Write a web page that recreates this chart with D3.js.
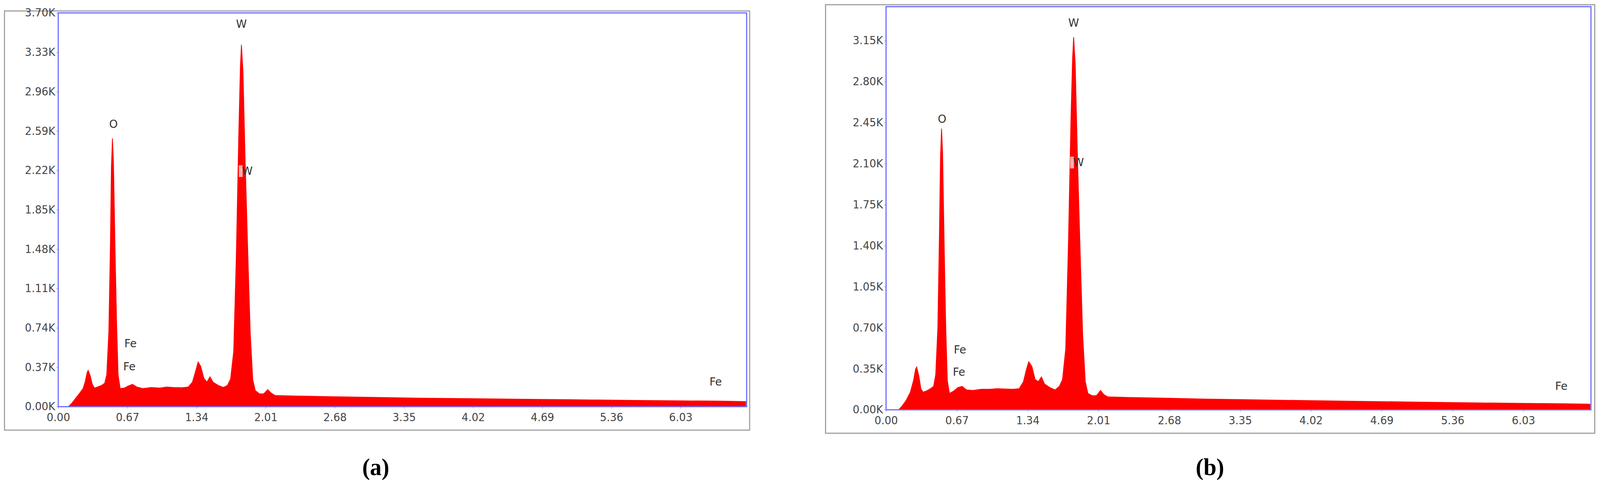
<!DOCTYPE html>
<html><head><meta charset="utf-8">
<script src="https://cdn.jsdelivr.net/npm/d3@7/dist/d3.min.js"></script>
<style>html,body{margin:0;padding:0;background:#fff;overflow:hidden}svg{display:block;width:100vw;height:100vh}</style>
</head><body>
<svg id="chart" viewBox="0 0 4258 1248" preserveAspectRatio="none"></svg>
<script>
// x tick values (keV) shared by both spectra
const xTicks = [0.00, 0.67, 1.34, 2.01, 2.68, 3.35, 4.02, 4.69, 5.36, 6.03];
const yTicksA = [0, 370, 740, 1110, 1480, 1850, 2220, 2590, 2960, 3330, 3700];
const yTicksB = [0, 350, 700, 1050, 1400, 1750, 2100, 2450, 2800, 3150];

// spectrum (a): [energy keV, counts]
const spectrumA = [
  [0.10,0],[0.13,30],[0.17,80],[0.21,130],[0.24,170],[0.26,230],[0.28,320],[0.29,340],[0.31,290],[0.33,210],
  [0.35,175],[0.38,185],[0.42,200],[0.45,220],[0.47,300],[0.49,700],[0.505,1500],[0.515,2250],[0.525,2520],
  [0.535,2300],[0.55,1500],[0.565,800],[0.58,300],[0.60,170],[0.64,175],[0.68,195],[0.72,210],[0.76,185],
  [0.82,170],[0.9,180],[0.98,175],[1.05,185],[1.12,180],[1.2,178],[1.26,185],[1.30,230],[1.33,330],
  [1.355,420],[1.38,380],[1.41,270],[1.44,230],[1.47,280],[1.50,230],[1.55,200],[1.60,180],[1.64,200],
  [1.67,260],[1.70,520],[1.725,1400],[1.75,2600],[1.765,3200],[1.775,3400],[1.79,3150],[1.81,2350],
  [1.835,1500],[1.86,700],[1.885,250],[1.91,150],[1.95,120],[1.99,120],[2.03,160],[2.06,130],[2.1,105],
  [2.3,100],[2.6,95],[3.0,88],[3.5,80],[4.0,75],[4.5,70],[5.0,65],[5.5,60],[6.0,55],[6.4,52],[6.66,48]
];
// spectrum (b)
const spectrumB = [
  [0.12,0],[0.15,30],[0.19,80],[0.23,150],[0.26,250],[0.28,350],[0.29,365],[0.31,290],[0.33,180],
  [0.35,150],[0.38,160],[0.42,180],[0.45,200],[0.47,300],[0.49,700],[0.505,1500],[0.515,2150],[0.525,2400],
  [0.535,2200],[0.55,1400],[0.565,700],[0.58,250],[0.60,140],[0.64,160],[0.68,190],[0.72,200],[0.76,170],
  [0.82,165],[0.9,175],[0.98,175],[1.05,180],[1.12,178],[1.2,175],[1.26,180],[1.30,240],[1.33,350],
  [1.35,410],[1.38,370],[1.41,260],[1.44,240],[1.47,280],[1.50,220],[1.55,190],[1.60,170],[1.64,200],
  [1.67,260],[1.70,520],[1.725,1400],[1.75,2500],[1.765,3000],[1.775,3180],[1.79,2950],[1.81,2200],
  [1.835,1400],[1.86,650],[1.885,240],[1.91,140],[1.95,120],[1.99,120],[2.03,165],[2.06,130],[2.1,110],
  [2.3,105],[2.6,100],[3.0,92],[3.5,85],[4.0,78],[4.5,72],[5.0,66],[5.5,60],[6.0,55],[6.4,52],[6.66,48]
];
// peak labels: [text, energy, counts, highlighted]
const labelsA = [["O",0.535,2620,false],["W",1.775,3560,false],["W",1.83,2180,true],
  ["Fe",0.70,560,false],["Fe",0.69,340,false],["Fe",6.37,200,false]];
const labelsB = [["O",0.53,2450,false],["W",1.775,3270,false],["W",1.82,2080,true],
  ["Fe",0.70,480,false],["Fe",0.69,290,false],["Fe",6.39,170,false]];

const svg = d3.select("#chart");
const font = "'DejaVu Sans', sans-serif";

function drawPanel(cfg) {
  const g = svg.append("g");
  g.append("rect").attr("x", cfg.box[0]).attr("y", cfg.box[1])
    .attr("width", cfg.box[2] - cfg.box[0]).attr("height", cfg.box[3] - cfg.box[1])
    .attr("fill", "#fff").attr("stroke", "#a0a0a0").attr("stroke-width", 3);

  const x = d3.scaleLinear().domain([0, 6.67]).range([cfg.left, cfg.right]);
  const y = d3.scaleLinear().domain([0, cfg.yMax]).range([cfg.bottom, cfg.top]);

  const area = d3.area().x(d => x(d[0])).y0(y(0)).y1(d => y(d[1]));
  g.append("path").datum(cfg.data).attr("d", area).attr("fill", "#ff0000")
    .attr("stroke", "#ff0000").attr("stroke-width", 2);

  cfg.labels.forEach(l => {
    if (l[3]) {
      g.append("rect").attr("x", x(l[1]) - 22).attr("y", y(l[2]) - 24)
        .attr("width", 10).attr("height", 30).attr("fill", "#ffb0b0");
    }
    g.append("text").attr("x", x(l[1])).attr("y", y(l[2]))
      .attr("text-anchor", l[3] ? "start" : "middle")
      .attr("dx", l[3] ? -14 : 0)
      .attr("font-family", font).attr("font-size", 29).attr("fill", "#333")
      .text(l[0]);
  });

  g.append("rect").attr("x", cfg.left).attr("y", cfg.top)
    .attr("width", cfg.right - cfg.left).attr("height", cfg.bottom - cfg.top)
    .attr("fill", "none").attr("stroke", "#6b6bff").attr("stroke-width", 3);

  const xAxis = g.append("g").attr("transform", `translate(0,${cfg.bottom})`)
    .call(d3.axisBottom(x).tickValues(xTicks).tickFormat(d3.format(".2f")).tickSize(5).tickPadding(12));
  const yAxis = g.append("g").attr("transform", `translate(${cfg.left},0)`)
    .call(d3.axisLeft(y).tickValues(cfg.yTicks).tickFormat(d => (d / 1000).toFixed(2) + "K").tickSize(5).tickPadding(3));
  [xAxis, yAxis].forEach(a => {
    a.select(".domain").remove();
    a.selectAll("line").attr("stroke", "#6b6bff");
    a.selectAll("text").attr("font-family", font).attr("font-size", 28).attr("fill", "#444");
  });

  svg.append("text").attr("x", cfg.caption[0]).attr("y", cfg.caption[1])
    .attr("text-anchor", "middle").attr("font-family", "'Liberation Serif', serif")
    .attr("font-weight", "bold").attr("font-size", 62).text(cfg.caption[2]);
}

drawPanel({ box: [12, 28, 1995, 1100], left: 155, right: 1987, top: 33, bottom: 1040,
  yMax: 3700, yTicks: yTicksA, data: spectrumA, labels: labelsA, caption: [1000, 1215, "(a)"] });
drawPanel({ box: [2197, 12, 4244, 1108], left: 2358, right: 4234, top: 17, bottom: 1048,
  yMax: 3440, yTicks: yTicksB, data: spectrumB, labels: labelsB, caption: [3220, 1215, "(b)"] });
</script>
</body></html>
